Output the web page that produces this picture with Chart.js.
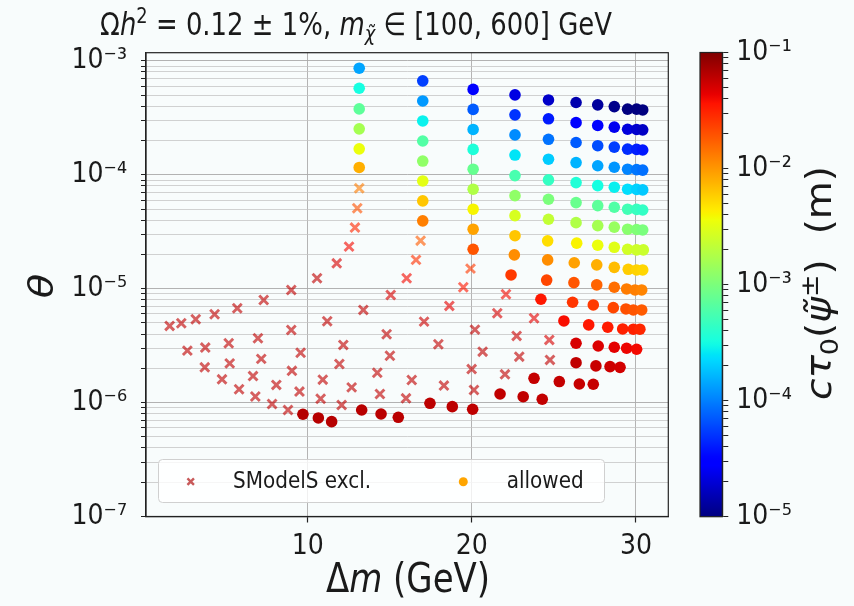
<!DOCTYPE html>
<html><head><meta charset="utf-8">
<script src="https://cdn.jsdelivr.net/npm/chart.js@4"></script>
<style>
html,body{margin:0;padding:0;background:#f8fcfc;}
#wrap{position:relative;width:854px;height:606px;}
canvas{position:absolute;left:0;top:0;}
</style></head><body>
<div id="wrap"><canvas id="main" width="854" height="606"></canvas><canvas id="cbar" width="854" height="606"></canvas></div>
<script>
// ---------------- data ----------------
const xTicks = [10, 20, 30];
const yDecades = [-7, -6, -5, -4, -3];
const cbDecades = [-5, -4, -3, -2, -1];

// SModelS-excluded points: Δm (GeV), θ, cτ0 (m)
const exclDm = [
  1.59, 2.30, 3.18, 4.33, 5.71, 7.32, 9.00, 10.57,
  2.67, 3.76, 5.19, 6.97, 9.00, 11.19,
  3.73, 5.25, 7.17, 9.57,
  4.78, 6.67, 9.04, 10.92,
  5.82, 8.09, 6.81, 9.50, 10.79, 7.83, 8.80,
  13.14, 13.02, 12.88, 12.52, 11.77,
  16.88, 16.60, 16.03, 15.06, 13.39,
  19.92, 19.48, 18.63, 17.09, 14.81, 12.17,
  20.19, 17.96, 15.01, 11.93,
  19.99, 16.34, 14.24, 12.68, 18.30, 20.13, 14.40, 15.99, 12.07,
  22.08, 21.55, 23.79, 22.73, 24.72, 20.66, 22.89, 24.76, 22.02
];
const exclTheta = [
  4.71e-6, 4.97e-6, 5.39e-6, 5.97e-6, 6.73e-6, 7.96e-6, 9.75e-6, 1.235e-5,
  2.86e-6, 3.04e-6, 3.32e-6, 3.67e-6, 4.34e-6, 5.18e-6,
  2.04e-6, 2.21e-6, 2.42e-6, 2.74e-6,
  1.60e-6, 1.71e-6, 1.90e-6, 1.59e-6,
  1.31e-6, 1.43e-6, 1.13e-6, 1.25e-6, 1.08e-6, 9.73e-7, 8.61e-7,
  7.62e-5, 5.09e-5, 3.44e-5, 2.34e-5, 1.67e-5,
  2.64e-5, 1.79e-5, 1.235e-5, 8.81e-6, 6.51e-6,
  1.50e-5, 1.03e-5, 7.06e-6, 5.14e-6, 3.98e-6, 3.21e-6,
  4.37e-6, 3.25e-6, 2.58e-6, 2.18e-6,
  1.97e-6, 1.58e-6, 1.83e-6, 1.36e-6, 1.41e-6, 1.29e-6, 1.19e-6, 1.09e-6, 9.53e-7,
  8.94e-6, 6.09e-6, 5.50e-6, 3.85e-6, 3.55e-6, 2.80e-6, 2.53e-6, 2.37e-6, 1.77e-6
];
const exclCtau = [
  6e-2, 6e-2, 6e-2, 6e-2, 6e-2, 6e-2, 6e-2, 6e-2,
  6e-2, 6e-2, 6e-2, 6e-2, 6e-2, 6e-2,
  6e-2, 6e-2, 6e-2, 6e-2,
  6e-2, 6e-2, 6e-2, 6e-2,
  6e-2, 6e-2, 6e-2, 6e-2, 6e-2, 6e-2, 6e-2,
  1.3e-2, 2.0e-2, 3.0e-2, 4.0e-2, 5.0e-2,
  1.8e-2, 2.8e-2, 4.0e-2, 5.0e-2, 6e-2,
  2.5e-2, 3.5e-2, 4.5e-2, 5.5e-2, 6e-2, 6e-2,
  6e-2, 6e-2, 6e-2, 6e-2,
  6e-2, 6e-2, 6e-2, 6e-2, 6e-2, 6e-2, 6e-2, 6e-2, 6e-2,
  4.0e-2, 5.0e-2, 4.5e-2, 5.5e-2, 5.0e-2, 6e-2, 6e-2, 6e-2, 6e-2
];

// allowed points: Δm (GeV), θ, cτ0 (m)
const allowDm = [
  13.14, 13.14, 13.14, 13.14, 13.14, 13.14,
  17.01, 17.01, 17.01, 17.01, 17.01, 17.01, 17.01, 17.01,
  20.08, 20.08, 20.08, 20.08, 20.08, 20.08, 20.08, 20.08, 20.08,
  22.63, 22.63, 22.63, 22.63, 22.63, 22.63, 22.63, 22.63, 22.59, 22.39,
  24.67, 24.67, 24.67, 24.67, 24.67, 24.67, 24.67, 24.62, 24.62, 24.56, 24.21,
  26.35, 26.35, 26.35, 26.35, 26.35, 26.35, 26.35, 26.39, 26.24, 26.22, 26.14, 25.61, 26.35, 26.35,
  27.67, 27.67, 27.67, 27.67, 27.67, 27.67, 27.67, 27.67, 27.61, 27.61, 27.40, 27.12, 27.70, 27.56,
  28.68, 28.68, 28.68, 28.68, 28.68, 28.68, 28.68, 28.68, 28.68, 28.68, 28.62, 28.28, 28.68, 28.42, 29.03,
  29.49, 29.49, 29.49, 29.49, 29.49, 29.49, 29.49, 29.49, 29.53, 29.43, 29.39, 29.19, 29.43,
  30.04, 30.04, 30.04, 30.04, 30.04, 30.04, 30.04, 30.04, 30.04, 29.94, 29.84, 29.84, 30.04,
  30.41, 30.41, 30.41, 30.41, 30.41, 30.41, 30.41, 30.45, 30.41, 30.35, 30.35, 30.24,
  23.79, 25.33, 26.55, 27.40,
  21.72, 23.13, 24.29,
  17.45, 18.81, 20.05,
  13.29, 14.47, 15.52,
  9.71, 10.65, 11.46
];
const allowTheta = [
  8.63e-4, 5.75e-4, 3.79e-4, 2.53e-4, 1.69e-4, 1.16e-4,
  6.68e-4, 4.45e-4, 2.97e-4, 1.98e-4, 1.32e-4, 8.83e-5, 5.90e-5, 3.94e-5,
  5.62e-4, 3.75e-4, 2.50e-4, 1.67e-4, 1.12e-4, 7.47e-5, 4.99e-5, 3.33e-5, 2.22e-5,
  5.03e-4, 3.36e-4, 2.24e-4, 1.49e-4, 9.84e-5, 6.56e-5, 4.38e-5, 2.92e-5, 1.98e-5, 1.32e-5,
  4.54e-4, 3.10e-4, 2.05e-4, 1.37e-4, 9.02e-5, 6.10e-5, 4.07e-5, 2.63e-5, 1.79e-5, 1.19e-5, 8.08e-6,
  4.31e-4, 2.87e-4, 1.92e-4, 1.28e-4, 8.54e-5, 5.70e-5, 3.80e-5, 2.51e-5, 1.69e-5, 1.13e-5, 7.60e-6, 5.21e-6, 3.32e-6, 2.24e-6,
  4.11e-4, 2.71e-4, 1.80e-4, 1.20e-4, 8.03e-5, 5.36e-5, 3.58e-5, 2.41e-5, 1.62e-5, 1.08e-5, 7.20e-6, 4.81e-6, 3.14e-6, 2.10e-6,
  3.97e-4, 2.62e-4, 1.75e-4, 1.165e-4, 7.78e-5, 5.19e-5, 3.47e-5, 2.31e-5, 1.54e-5, 1.03e-5, 6.82e-6, 4.59e-6, 3.06e-6, 2.07e-6, 2.04e-6,
  3.77e-4, 2.51e-4, 1.68e-4, 1.12e-4, 7.47e-5, 4.99e-5, 3.33e-5, 2.22e-5, 1.48e-5, 9.95e-6, 6.64e-6, 4.43e-6, 3.00e-6,
  3.77e-4, 2.50e-4, 1.67e-4, 1.11e-4, 7.44e-5, 4.97e-5, 3.31e-5, 2.19e-5, 1.46e-5, 9.75e-6, 6.51e-6, 4.41e-6, 2.94e-6,
  3.71e-4, 2.48e-4, 1.65e-4, 1.10e-4, 7.37e-5, 4.91e-5, 3.28e-5, 2.19e-5, 1.46e-5, 9.75e-6, 6.51e-6, 4.41e-6,
  1.635e-6, 1.53e-6, 1.457e-6, 1.449e-6,
  1.19e-6, 1.127e-6, 1.07e-6,
  9.86e-7, 9.21e-7, 8.74e-7,
  8.61e-7, 7.94e-7, 7.43e-7,
  7.90e-7, 7.33e-7, 6.80e-7
];
const allowCtau = [
  1.4e-4, 3.2e-4, 7.1e-4, 1.6e-3, 3.5e-3, 7.9e-3,
  5.6e-5, 1.26e-4, 2.8e-4, 6.3e-4, 1.26e-3, 3.2e-3, 6.3e-3, 1.26e-2,
  3.2e-5, 7.1e-5, 1.6e-4, 3.5e-4, 7.9e-4, 1.8e-3, 4.0e-3, 8.9e-3, 1.9e-2,
  2.2e-5, 5.0e-5, 1.12e-4, 2.5e-4, 5.6e-4, 1.26e-3, 2.8e-3, 6.3e-3, 1.1e-2, 2.5e-2,
  1.8e-5, 4.0e-5, 8.9e-5, 2.0e-4, 4.5e-4, 1.0e-3, 2.2e-3, 5.0e-3, 1.1e-2, 2.2e-2, 3.5e-2,
  1.45e-5, 3.2e-5, 7.2e-5, 1.6e-4, 3.6e-4, 8.1e-4, 1.8e-3, 4.1e-3, 9.1e-3, 1.9e-2, 2.6e-2, 3.8e-2, 5.0e-2, 6.0e-2,
  1.26e-5, 2.8e-5, 6.3e-5, 1.4e-4, 3.2e-4, 7.1e-4, 1.6e-3, 3.5e-3, 7.9e-3, 1.66e-2, 2.5e-2, 3.5e-2, 4.8e-2, 5.6e-2,
  1.1e-5, 2.45e-5, 5.5e-5, 1.23e-4, 2.75e-4, 6.2e-4, 1.38e-3, 3.1e-3, 6.9e-3, 1.5e-2, 2.2e-2, 3.4e-2, 4.5e-2, 5.4e-2, 5.2e-2,
  1.0e-5, 2.1e-5, 4.7e-5, 1.05e-4, 2.35e-4, 5.2e-4, 1.17e-3, 2.6e-3, 5.9e-3, 1.3e-2, 2.0e-2, 3.2e-2, 4.2e-2,
  1.0e-5, 1.86e-5, 4.2e-5, 9.3e-5, 2.1e-4, 4.7e-4, 1.05e-3, 2.5e-3, 5.6e-3, 1.26e-2, 1.9e-2, 3.2e-2, 4.0e-2,
  1.0e-5, 1.74e-5, 3.9e-5, 8.7e-5, 1.95e-4, 4.4e-4, 9.8e-4, 2.4e-3, 5.4e-3, 1.2e-2, 1.8e-2, 3.0e-2,
  5.8e-2, 5.8e-2, 5.7e-2, 5.7e-2,
  6.0e-2, 6.0e-2, 5.9e-2,
  6.2e-2, 6.2e-2, 6.1e-2,
  6.4e-2, 6.3e-2, 6.3e-2,
  6.6e-2, 6.5e-2, 6.5e-2
];

// ---------------- helpers ----------------
const JR = [[0,0],[0.35,0],[0.66,1],[0.89,1],[1,0.5]];
const JG = [[0,0],[0.125,0],[0.375,1],[0.64,1],[0.91,0],[1,0]];
const JB = [[0,0.5],[0.11,1],[0.34,1],[0.65,0],[1,0]];
function interp(p, t){ for(let i=1;i<p.length;i++){ if(t<=p[i][0]){ const a=p[i-1],b=p[i]; return a[1]+(b[1]-a[1])*(t-a[0])/(b[0]-a[0]); } } return p[p.length-1][1]; }
function jet(t){ t=Math.max(0,Math.min(1,t)); return [interp(JR,t),interp(JG,t),interp(JB,t)].map(v=>Math.round(v*255)); }
const CMIN = -5, CMAX = -1;
function ctauColor(c, a){ const t=(Math.log10(c)-CMIN)/(CMAX-CMIN); const [r,g,b]=jet(t); return `rgba(${r},${g},${b},${a})`; }
const SUP = {'-':'\u207B','0':'\u2070','1':'\u00B9','2':'\u00B2','3':'\u00B3','4':'\u2074','5':'\u2075','6':'\u2076','7':'\u2077','8':'\u2078','9':'\u2079'};
function isPow10(v){ const e=Math.round(Math.log10(v)); return Math.abs(v/Math.pow(10,e)-1)<1e-6; }
function powLabel(v){ const e=Math.round(Math.log10(v)); return '10'+String(e).split('').map(ch=>SUP[ch]).join(''); }
function logTicks(decs){ const out=[]; for(let i=0;i<decs.length;i++){ const e=decs[i]; const last=i===decs.length-1; for(let m=1;m<=(last?1:9);m++) out.push(parseFloat((m*Math.pow(10,e)).toPrecision(3))); } return out; }

function hasFont(name){ const c=document.createElement('canvas').getContext('2d'); const s='mmmwwwiiil0123456789'; c.font='72px monospace'; const a=c.measureText(s).width; c.font=`72px "${name}", monospace`; const b=c.measureText(s).width; return Math.abs(a-b)>0.5; }
const COND = hasFont('DejaVu Sans Condensed');
const TICKFONT = COND ? {family:"'DejaVu Sans Condensed'", size:28} : {family:"'DejaVu Sans'", size:25};
const FAM = "'DejaVu Sans'";
const TXT = '#1a1a1a';

function rich(ctx, segs, x, y, o){
  const size=o.size, rot=o.rot||0, sx=o.sx||1, sy=o.sy||1;
  ctx.save(); ctx.translate(x,y); ctx.rotate(rot); ctx.scale(sx,sy);
  ctx.fillStyle=o.color||TXT; ctx.textAlign='left'; ctx.textBaseline=o.baseline||'alphabetic';
  const f=s=>(s.it?'italic ':'')+Math.round((s.sup||s.sub)?size*0.7:size)+'px '+FAM;
  const ws=segs.map(s=>{ ctx.font=f(s); return ctx.measureText(s.t).width; });
  const tot=ws.reduce((a,b)=>a+b,0);
  let cx=o.align==='left'?0:-tot/2;
  segs.forEach((s,i)=>{ ctx.font=f(s); ctx.fillText(s.t, cx, s.sup?-size*0.36:(s.sub?size*0.2:0)); cx+=ws[i]; });
  ctx.restore();
}

// ---------------- main chart ----------------
const decorPlugin = {
  id:'decor',
  afterDraw(chart){
    const c=chart.ctx, a=chart.chartArea;
    c.save();
    c.strokeStyle='#222'; c.lineWidth=1.2;
    c.strokeRect(a.left, a.top, a.right-a.left, a.bottom-a.top);
    // legend box
    const lx=158.5, ly=459.5, lw=446, lh=43, r=4;
    c.beginPath();
    c.moveTo(lx+r,ly); c.lineTo(lx+lw-r,ly); c.arcTo(lx+lw,ly,lx+lw,ly+r,r);
    c.lineTo(lx+lw,ly+lh-r); c.arcTo(lx+lw,ly+lh,lx+lw-r,ly+lh,r);
    c.lineTo(lx+r,ly+lh); c.arcTo(lx,ly+lh,lx,ly+lh-r,r);
    c.lineTo(lx,ly+r); c.arcTo(lx,ly,lx+r,ly,r); c.closePath();
    c.fillStyle='rgba(255,255,255,0.8)'; c.fill();
    c.strokeStyle='#d0d0d0'; c.lineWidth=1; c.stroke();
    c.restore();
    c.save();
    c.strokeStyle='rgba(200,90,90,1)'; c.lineWidth=2.4;
    Chart.helpers.drawPoint(c, {pointStyle:'crossRot', radius:4.6, borderWidth:2.4}, 190.7, 481.7);
    c.fillStyle='#ffa500'; c.beginPath(); c.arc(463.3,481.7,4.5,0,Math.PI*2); c.fill();
    c.restore();
    rich(c,[{t:'SModelS excl.'}],233,482,{size:23,sx:0.87,align:'left',baseline:'middle'});
    rich(c,[{t:'allowed'}],506.7,482,{size:23,sx:0.87,align:'left',baseline:'middle'});
    // title
    rich(c,[{t:'\u03A9'},{t:'h',it:1},{t:'2',sup:1},{t:' = 0.12 \u00B1 1%, '},{t:'m',it:1},{t:'\u03C7\u0303',it:1,sub:1},{t:' \u2208 [100, 600] GeV'}],356,35,{size:32,sx:0.81});
    // axis labels
    rich(c,[{t:'\u0394'},{t:'m',it:1},{t:' (GeV)'}],408,592,{size:40,sx:0.85});
    rich(c,[{t:'\u03B8',it:1}],53,286,{size:40,rot:-Math.PI/2,sy:0.86});
  }
};

const yTickVals = logTicks(yDecades);
new Chart(document.getElementById('main'), {
  type:'scatter',
  data:{ datasets:[
    { label:'SModelS excl.', data: exclDm.map((x,i)=>({x, y: exclTheta[i]})),
      pointStyle:'crossRot', pointRadius:6.3, pointBorderWidth:2.9,
      pointBorderColor: exclCtau.map(v=>ctauColor(v,0.62)), pointBackgroundColor:'rgba(0,0,0,0)' },
    { label:'allowed', data: allowDm.map((x,i)=>({x, y: allowTheta[i]})),
      pointStyle:'circle', pointRadius:5.8, pointBorderWidth:0,
      pointBackgroundColor: allowCtau.map(v=>ctauColor(v,1)), pointBorderColor: allowCtau.map(v=>ctauColor(v,1)) }
  ]},
  options:{
    responsive:false, animation:false, events:[],
    layout:{padding:{top:52.7, right:185.7, left:0, bottom:0}},
    plugins:{ legend:{display:false}, tooltip:{enabled:false} },
    scales:{
      x:{ type:'linear', min:0.15, max:31.97,
        afterBuildTicks:s=>{ s.ticks = xTicks.map(v=>({value:v})); },
        afterFit:s=>{ s.height = 89.5; },
        grid:{ color:'#b4b4b4', lineWidth:1, tickLength:6, tickColor:'#222', tickWidth:1.2 },
        border:{ display:true, color:'#222', width:1.2 },
        ticks:{ autoSkip:false, maxRotation:0, padding:7, color:TXT, font:TICKFONT, callback:v=>String(v) }
      },
      y:{ type:'logarithmic', min:1e-7, max:1.18e-3,
        afterBuildTicks:s=>{ s.ticks = yTickVals.map(v=>({value:v, major:isPow10(v)})); },
        afterFit:s=>{ s.width = 146; },
        grid:{ color:ctx=>(ctx.tick && isPow10(ctx.tick.value)) ? 'rgba(170,170,170,0.9)' : 'rgba(195,195,195,0.75)',
               lineWidth:1, tickLength:5, tickColor:'#222', tickWidth:1 },
        border:{ display:true, color:'#222', width:1.2 },
        ticks:{ autoSkip:false, padding:14, color:TXT, font:TICKFONT, callback:v=>isPow10(v)?powLabel(v):'' }
      }
    }
  },
  plugins:[decorPlugin]
});

// ---------------- colorbar ----------------
const cbPlugin = {
  id:'cbar',
  beforeDatasetsDraw(chart){
    const c=chart.ctx, a=chart.chartArea;
    const g=c.createLinearGradient(0,a.bottom,0,a.top);
    for(let i=0;i<=100;i++){ const [r,gg,b]=jet(i/100); g.addColorStop(i/100,`rgb(${r},${gg},${b})`); }
    c.save(); c.fillStyle=g; c.fillRect(a.left,a.top,a.right-a.left,a.bottom-a.top);
    c.strokeStyle='#222'; c.lineWidth=1.2; c.strokeRect(a.left,a.top,a.right-a.left,a.bottom-a.top); c.restore();
  },
  afterDraw(chart){
    rich(chart.ctx,[{t:'c',it:1},{t:'\u03C4',it:1},{t:'0',sub:1},{t:'('},{t:'\u03C8\u0303',it:1},{t:'\u00B1',sup:1},{t:')  (m)'}],831,283,{size:39,rot:-Math.PI/2,sy:0.9});
  }
};
const cbTickVals = logTicks(cbDecades);
new Chart(document.getElementById('cbar'), {
  type:'scatter',
  data:{ datasets:[] },
  options:{
    responsive:false, animation:false, events:[],
    layout:{padding:{left:700, top:52.5, bottom:89.3, right:0}},
    plugins:{ legend:{display:false}, tooltip:{enabled:false} },
    scales:{
      x:{ display:false, min:0, max:1 },
      y:{ type:'logarithmic', position:'right', min:1e-5, max:1e-1,
        afterBuildTicks:s=>{ s.ticks = cbTickVals.map(v=>({value:v, major:isPow10(v)})); },
        afterFit:s=>{ s.width = 131.7; },
        grid:{ drawOnChartArea:false, tickLength:6, tickColor:'#222', tickWidth:1 },
        border:{ display:true, color:'#222', width:1.2 },
        ticks:{ autoSkip:false, padding:8, color:TXT, font:TICKFONT, callback:v=>isPow10(v)?powLabel(v):'' }
      }
    }
  },
  plugins:[cbPlugin]
});
</script></body></html>
